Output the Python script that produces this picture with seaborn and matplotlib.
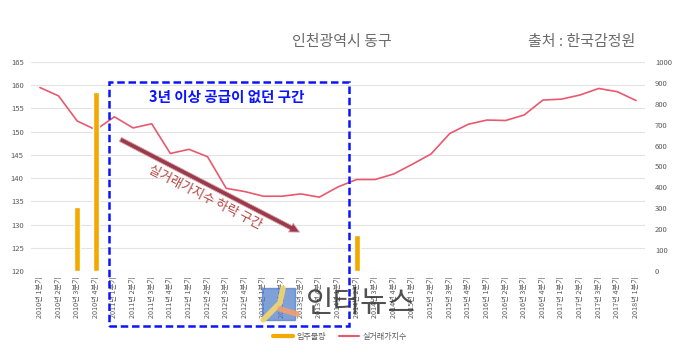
import numpy as np
import pandas as pd
import matplotlib
matplotlib.use('Agg')
import matplotlib.pyplot as plt
from matplotlib.lines import Line2D
from matplotlib.patches import Rectangle
import seaborn as sns

quarters = [f'{y}년 {q}분기' for y in range(2010, 2018) for q in range(1, 5)] + ['2018년 1분기']
price_index = [159.5, 157.7, 152.3, 150.4, 153.2, 150.8, 151.7, 145.3, 146.2, 144.6,
               137.8, 137.1, 136.1, 136.1, 136.6, 135.9, 138.1, 139.7, 139.7, 140.9,
               143.0, 145.2, 149.6, 151.6, 152.5, 152.4, 153.6, 156.8, 157.0, 157.9,
               159.3, 158.6, 156.7]
supply = [0, 0, 305, 858, 0, 0, 0, 0, 0, 0,
          0, 0, 0, 0, 0, 0, 0, 172, 0, 0,
          0, 0, 0, 0, 0, 0, 0, 0, 0, 0,
          0, 0, 0]

df = pd.DataFrame({'quarter': quarters, 'price': price_index, 'supply': supply})

sns.set_style('white')
plt.rcParams['font.family'] = ['Noto Sans CJK KR', 'DejaVu Sans']

bar_color = '#f2a900'
line_color = '#e8596e'
tick_color = '#595959'

fig = plt.figure(figsize=(6.8, 3.55), dpi=100)
ax = fig.add_axes([0.045, 0.2366, 0.904, 0.5888])

sns.lineplot(data=df, x='quarter', y='price', ax=ax, color=line_color,
             linewidth=1.2, sort=False, zorder=3)
ax.set_ylim(120, 165)
ax.set_yticks(np.arange(120, 166, 5))
ax.set_xlim(-0.5, len(quarters) - 0.5)
ax.grid(axis='y', color='#e3e3e3', linewidth=0.8)
ax.grid(axis='x', visible=False)
ax.set_xlabel('')
ax.set_ylabel('')

ax2 = ax.twinx()
sns.barplot(data=df, x='quarter', y='supply', ax=ax2, color=bar_color,
            width=0.32, saturation=1, zorder=2)
ax2.set_ylim(0, 1000)
ax2.set_yticks(np.arange(0, 1001, 100))
ax2.set_xlim(-0.5, len(quarters) - 0.5)
ax2.set_ylabel('')
ax2.set_xlabel('')
ax2.grid(False)

for a in (ax, ax2):
    for s in a.spines.values():
        s.set_visible(False)
    a.tick_params(length=0, labelcolor=tick_color, labelsize=5.5)

ax.tick_params(axis='y', pad=5)
ax2.tick_params(axis='y', pad=7)
ax.set_xticks(range(len(quarters)))
ax.set_xticklabels(quarters, rotation=90, fontsize=5.2, color=tick_color)
ax.tick_params(axis='x', pad=4)

# dashed box for the no-supply period
box = Rectangle((3.7, 108.2), 16.59 - 3.7, 160.7 - 108.2, fill=False,
                edgecolor='#0a14ff', linestyle=(0, (3, 1.5)), linewidth=1.8,
                clip_on=False, zorder=5)
ax.add_patch(box)
ax.text(10.0, 157.5, '3년 이상 공급이 없던 구간', color='#0a14ff', fontsize=10.5,
        fontweight='bold', ha='center', va='center', zorder=6)

# falling arrow
ax.annotate('', xy=(14.07, 128.1), xytext=(4.19, 148.6),
            arrowprops=dict(arrowstyle='simple,head_length=0.7,head_width=0.7,tail_width=0.32',
                            fc='#9b3a4a', ec='#d8a0a8', lw=0.6), zorder=6)
ax.text(8.86, 135.8, '실거래가지수 하락 구간', color='#b5443f', fontsize=9.4,
        rotation=-27, rotation_mode='anchor', ha='center', va='center', zorder=6)

fig.text(0.503, 0.882, '인천광역시 동구', color='#6b6b6b', fontsize=10.8,
         ha='center', va='center')
fig.text(0.855, 0.882, '출처 : 한국감정원', color='#6b6b6b', fontsize=10.8,
         ha='center', va='center')

# watermark logo and name
fig.patches.append(Rectangle((262 / 680, 1 - 320 / 355), 33 / 680, 32 / 355,
                             transform=fig.transFigure, color='#4a78c8', alpha=0.7,
                             zorder=7))
fig.lines.append(Line2D([263 / 680, 280 / 680, 283 / 680],
                        [1 - 320 / 355, 1 - 303 / 355, 1 - 288 / 355],
                        transform=fig.transFigure, color='#f5d76e', linewidth=4,
                        solid_capstyle='round', alpha=0.9, zorder=8))
fig.lines.append(Line2D([280 / 680, 297 / 680], [1 - 309 / 355, 1 - 314 / 355],
                        transform=fig.transFigure, color='#f0a070', linewidth=4,
                        solid_capstyle='round', alpha=0.9, zorder=8))
fig.text(361 / 680, 1 - 304 / 355, '인터뉴스', color='#333333', alpha=0.85,
         fontsize=21.5, ha='center', va='center', zorder=8)

handles = [Line2D([], [], color=bar_color, linewidth=3),
           Line2D([], [], color=line_color, linewidth=1.5)]
fig.legend(handles, ['입주물량', '실거래가지수'], loc='center',
           bbox_to_anchor=(0.5, 1 - 336 / 355), ncol=2, frameon=False,
           fontsize=5.8, labelcolor=tick_color, handlelength=2.5,
           columnspacing=1.6, handletextpad=0.4)

fig.savefig('out.png', dpi=100)
